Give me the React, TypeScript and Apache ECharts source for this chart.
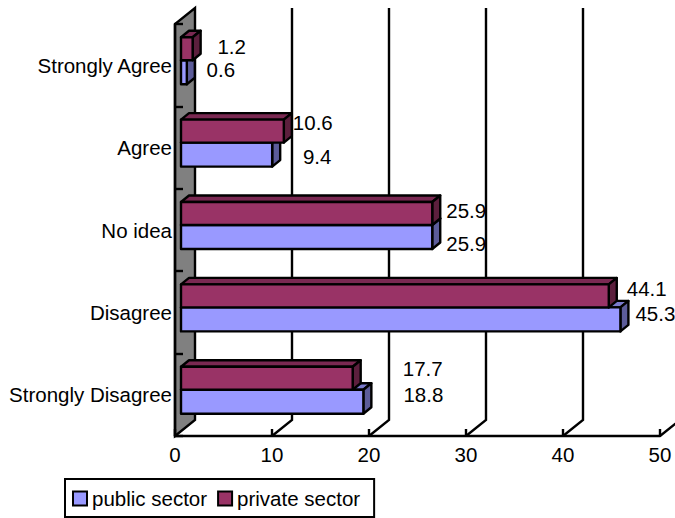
import React, { useEffect, useRef } from "react";
import * as echarts from "echarts";

const categories = ["Strongly Disagree", "Disagree", "No idea", "Agree", "Strongly Agree"];
const publicSector = [18.8, 45.3, 25.9, 9.4, 0.6];
const privateSector = [17.7, 44.1, 25.9, 10.6, 1.2];
const gridValues = [10, 20, 30, 40, 50];
const xTicks = [0, 10, 20, 30, 40, 50];

// Hand-placed label offsets in the reference, relative to value point on the axis.
const publicLabelOffsets = [[66, 0], [41, 1], [40, 13], [51, 9], [40, 4]];
const privateLabelOffsets = [[76, -26], [44, -24], [40, -20], [35, -25], [45, -19]];

const FONT = "'Liberation Sans', Arial, sans-serif";
const FONT_SIZE = 20.5;
const LINE = 2.4;
const DEPTH_X = 20;
const DEPTH_Y = 16;
const BAR_X = 6;
const BAR_Y = -5;
const PUBLIC_H = 24;
const PRIVATE_H = 23;
const BAR_DX = 8;
const BAR_DY = 6.5;

const plotEnds = (api: any, v: number) => {
  const band = api.size([0, 1])[1];
  const b = api.coord([v, 0]);
  const t = api.coord([v, categories.length - 1]);
  return { x: b[0], bottom: b[1] + band / 2, top: t[1] - band / 2 };
};

const wallRender = (_: any, api: any) => {
  const { x, bottom, top } = plotEnds(api, 0);
  return {
    type: "polygon",
    shape: { points: [[x, bottom], [x + DEPTH_X, bottom - DEPTH_Y], [x + DEPTH_X, top - DEPTH_Y], [x, top]] },
    style: { fill: "#808080", stroke: "#000", lineWidth: LINE },
  };
};

const gridRender = (_: any, api: any) => {
  const { x, bottom, top } = plotEnds(api, api.value(0));
  return {
    type: "polyline",
    shape: { points: [[x, bottom], [x + DEPTH_X, bottom - DEPTH_Y], [x + DEPTH_X, top - DEPTH_Y]] },
    style: { fill: "none", stroke: "#000", lineWidth: LINE },
  };
};

const barRender = (colors: { face: string; top: string; side: string }, above: boolean, offsets: number[][]) => (params: any, api: any) => {
  const v = api.value(0);
  const cat = api.value(1);
  const p = api.coord([v, cat]);
  const origin = api.coord([0, cat]);
  const x0 = origin[0] + BAR_X;
  const x1 = x0 + (p[0] - origin[0]);
  const h = above ? PRIVATE_H : PUBLIC_H;
  const y0 = p[1] + BAR_Y + (above ? -h : 0);
  const y1 = y0 + h;
  const stroke = { stroke: "#000", lineWidth: LINE, lineJoin: "round" };
  const off = offsets[params.dataIndex];
  return {
    type: "group",
    children: [
      { type: "polygon", shape: { points: [[x0, y0], [x0 + BAR_DX, y0 - BAR_DY], [x1 + BAR_DX, y0 - BAR_DY], [x1, y0]] }, style: { fill: colors.top, ...stroke } },
      { type: "polygon", shape: { points: [[x1, y0], [x1 + BAR_DX, y0 - BAR_DY], [x1 + BAR_DX, y1 - BAR_DY], [x1, y1]] }, style: { fill: colors.side, ...stroke } },
      { type: "rect", shape: { x: x0, y: y0, width: x1 - x0, height: y1 - y0 }, style: { fill: colors.face, ...stroke } },
      { type: "text", x: p[0] + off[0], y: p[1] + off[1], style: { text: String(v), fill: "#000", font: `${FONT_SIZE}px ${FONT}`, textAlign: "center", textVerticalAlign: "middle" } },
    ],
  };
};

const publicColors = { face: "#9999FF", top: "#7A7ACC", side: "#5C5C99" };
const privateColors = { face: "#993366", top: "#7A2952", side: "#5C1F3D" };

export default function App() {
  const ref = useRef<HTMLDivElement>(null);
  useEffect(() => {
    document.body.style.margin = "0";
    const chart = echarts.init(ref.current!, null, { renderer: "svg" });
    chart.setOption({
      animation: false,
      backgroundColor: "#fff",
      grid: { left: 175, top: 24, width: 485, height: 412, containLabel: false },
      xAxis: {
        type: "value", min: 0, max: 50, interval: 10, z: 3,
        axisLine: { show: true, lineStyle: { color: "#000", width: LINE } },
        axisTick: { show: true, inside: true, length: 7, lineStyle: { color: "#000", width: LINE } },
        axisLabel: { color: "#000", fontSize: FONT_SIZE, fontFamily: FONT, margin: 8, customValues: xTicks, showMaxLabel: true },
        splitLine: { show: false },
      },
      yAxis: {
        type: "category", data: categories, z: 3,
        axisLine: { show: true, onZero: false, lineStyle: { color: "#000", width: LINE } },
        axisTick: { show: true, inside: true, length: 8, lineStyle: { color: "#000", width: LINE } },
        axisLabel: { color: "#000", fontSize: FONT_SIZE, fontFamily: FONT, margin: 3, interval: 0 },
        splitLine: { show: false },
      },
      legend: {
        left: 65, top: 479, orient: "horizontal",
        data: ["public sector", "private sector"],
        padding: [9, 14, 8, 7], itemGap: 10, itemWidth: 14, itemHeight: 14, icon: "rect",
        borderColor: "#000", borderWidth: 2, backgroundColor: "#fff",
        textStyle: { color: "#000", fontSize: FONT_SIZE, fontFamily: FONT },
      },
      series: [
        { type: "custom", z: 1, silent: true, renderItem: wallRender, data: [[0]], encode: { x: 0 } },
        { type: "custom", z: 1, silent: true, renderItem: gridRender, data: gridValues.map((v) => [v]), encode: { x: 0 } },
        {
          type: "custom", name: "public sector", z: 4, renderItem: barRender(publicColors, false, publicLabelOffsets),
          itemStyle: { color: publicColors.face, borderColor: "#000", borderWidth: 2 },
          data: publicSector.map((v, i) => [v, i]), encode: { x: 0, y: 1 },
        },
        {
          type: "custom", name: "private sector", z: 5, renderItem: barRender(privateColors, true, privateLabelOffsets),
          itemStyle: { color: privateColors.face, borderColor: "#000", borderWidth: 2 },
          data: privateSector.map((v, i) => [v, i]), encode: { x: 0, y: 1 },
        },
      ],
    });
    return () => chart.dispose();
  }, []);
  return <div ref={ref} style={{ width: 675, height: 518 }} />;
}
